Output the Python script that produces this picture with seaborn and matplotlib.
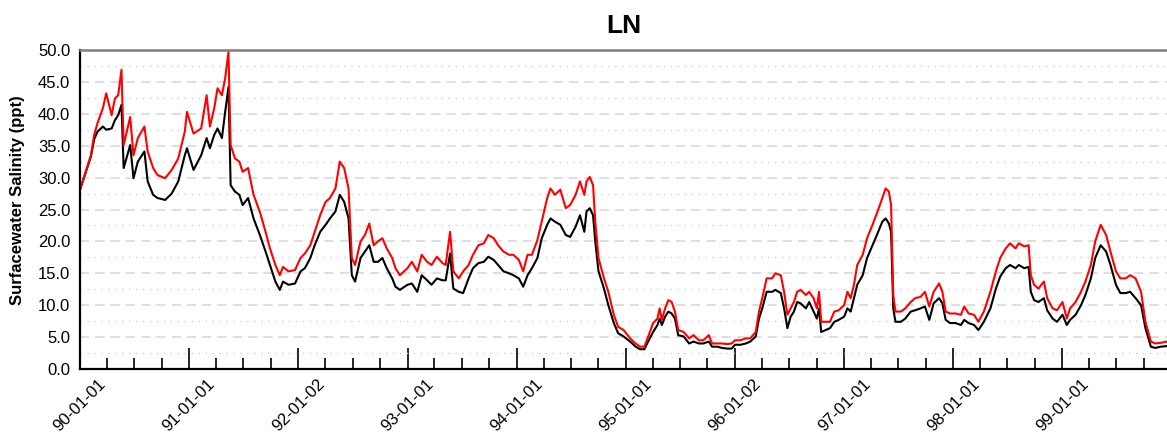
import matplotlib
matplotlib.use("Agg")
import matplotlib.pyplot as plt
import matplotlib.dates as mdates
import matplotlib.ticker as mticker
import seaborn as sns
import pandas as pd
import numpy as np

# ---------------- data ----------------
decimal_year = [
    1990.00, 1990.10, 1990.13, 1990.16, 1990.21, 1990.24, 1990.29, 1990.32, 1990.35, 1990.38,
    1990.40, 1990.46, 1990.49, 1990.53, 1990.59, 1990.62, 1990.67, 1990.71, 1990.78, 1990.84,
    1990.90, 1990.96, 1990.98, 1991.04, 1991.11, 1991.16, 1991.19, 1991.23, 1991.26, 1991.30,
    1991.33, 1991.36, 1991.38, 1991.42, 1991.46, 1991.49, 1991.54, 1991.59, 1991.65, 1991.70,
    1991.74, 1991.79, 1991.83, 1991.86, 1991.91, 1991.97, 1992.02, 1992.06, 1992.11, 1992.15,
    1992.20, 1992.25, 1992.29, 1992.34, 1992.38, 1992.42, 1992.46, 1992.49, 1992.52, 1992.57,
    1992.61, 1992.65, 1992.69, 1992.73, 1992.77, 1992.81, 1992.86, 1992.89, 1992.93, 1993.00,
    1993.04, 1993.09, 1993.13, 1993.18, 1993.22, 1993.27, 1993.32, 1993.35, 1993.39, 1993.42,
    1993.47, 1993.51, 1993.56, 1993.60, 1993.65, 1993.70, 1993.74, 1993.79, 1993.83, 1993.88,
    1993.93, 1993.97, 1994.02, 1994.06, 1994.10, 1994.14, 1994.19, 1994.23, 1994.28, 1994.31,
    1994.35, 1994.40, 1994.45, 1994.49, 1994.54, 1994.58, 1994.62, 1994.64, 1994.67, 1994.70,
    1994.72, 1994.75, 1994.80, 1994.84, 1994.89, 1994.93, 1994.98, 1995.04, 1995.09, 1995.13,
    1995.17, 1995.21, 1995.25, 1995.29, 1995.31, 1995.33, 1995.36, 1995.39, 1995.42, 1995.45,
    1995.48, 1995.53, 1995.58, 1995.62, 1995.67, 1995.71, 1995.76, 1995.79, 1995.84, 1995.88,
    1995.93, 1995.97, 1996.00, 1996.05, 1996.10, 1996.14, 1996.19, 1996.22, 1996.25, 1996.29,
    1996.34, 1996.37, 1996.42, 1996.45, 1996.48, 1996.51, 1996.54, 1996.57, 1996.60, 1996.65,
    1996.68, 1996.72, 1996.75, 1996.77, 1996.79, 1996.83, 1996.87, 1996.91, 1996.95, 1997.00,
    1997.03, 1997.06, 1997.09, 1997.12, 1997.17, 1997.21, 1997.26, 1997.30, 1997.35, 1997.38,
    1997.41, 1997.43, 1997.45, 1997.47, 1997.52, 1997.56, 1997.61, 1997.65, 1997.70, 1997.74,
    1997.78, 1997.82, 1997.87, 1997.90, 1997.93, 1997.97, 1998.02, 1998.07, 1998.10, 1998.14,
    1998.19, 1998.23, 1998.28, 1998.34, 1998.39, 1998.43, 1998.48, 1998.52, 1998.57, 1998.60,
    1998.65, 1998.69, 1998.71, 1998.74, 1998.78, 1998.83, 1998.86, 1998.91, 1998.95, 1999.00,
    1999.04, 1999.07, 1999.12, 1999.17, 1999.21, 1999.26, 1999.30, 1999.35, 1999.40, 1999.44,
    1999.49, 1999.53, 1999.58, 1999.62, 1999.67, 1999.72, 1999.76, 1999.81, 1999.85, 1999.90,
    1999.96,
]

red_salinity = [
    28.1, 33.5, 36.7, 38.5, 40.9, 43.2, 39.8, 42.4, 42.9, 46.9,
    35.1, 39.5, 33.5, 36.2, 38.0, 34.1, 31.5, 30.4, 29.9, 31.2,
    33.0, 37.2, 40.3, 36.9, 37.7, 42.9, 38.0, 40.9, 44.0, 42.9,
    45.6, 49.7, 35.1, 33.0, 32.5, 30.9, 31.5, 27.3, 24.5, 21.5,
    18.9, 16.3, 14.7, 16.0, 15.3, 15.5, 17.4, 18.1, 19.4, 21.5,
    24.1, 26.2, 26.8, 28.3, 32.5, 31.5, 28.3, 17.4, 16.3, 20.0,
    21.0, 22.8, 19.4, 20.0, 20.5, 18.9, 17.4, 15.8, 14.7, 15.8,
    16.8, 15.3, 17.9, 16.8, 16.3, 17.6, 16.6, 16.3, 21.5, 15.3,
    14.2, 15.3, 16.3, 17.9, 19.4, 19.7, 21.0, 20.5, 19.4, 18.4,
    17.9, 17.9, 17.1, 15.3, 17.9, 17.9, 20.2, 23.1, 26.8, 28.3,
    27.3, 28.1, 25.2, 25.7, 27.3, 29.4, 27.3, 29.4, 30.1, 28.8,
    23.1, 17.4, 14.2, 12.1, 8.5, 6.6, 6.1, 4.8, 4.0, 3.5,
    3.5, 5.3, 7.2, 7.9, 9.5, 7.7, 9.5, 10.8, 10.5, 9.0,
    6.1, 5.8, 4.8, 5.3, 4.5, 4.5, 5.3, 4.0, 4.0, 4.0,
    3.9, 4.0, 4.5, 4.5, 4.8, 4.8, 5.8, 9.0, 11.1, 14.2,
    14.2, 15.0, 14.7, 12.1, 8.5, 9.5, 10.5, 12.1, 12.4, 11.6,
    12.1, 11.1, 9.5, 12.1, 7.4, 7.4, 7.4, 9.0, 9.2, 10.0,
    12.1, 11.1, 13.2, 16.3, 17.9, 20.5, 22.6, 24.4, 26.8, 28.3,
    27.8, 25.7, 11.6, 9.0, 9.0, 9.5, 10.5, 11.1, 11.3, 12.1,
    9.8, 12.1, 13.4, 12.1, 9.0, 8.7, 8.7, 8.5, 9.8, 8.7,
    8.5, 7.4, 9.0, 12.1, 15.3, 17.4, 18.9, 19.7, 18.9, 19.7,
    19.2, 19.4, 14.7, 13.2, 12.6, 13.7, 11.1, 9.5, 9.2, 10.5,
    7.9, 9.5, 10.5, 12.1, 13.7, 16.3, 20.0, 22.6, 21.0, 18.4,
    15.3, 14.2, 14.2, 14.7, 14.2, 12.1, 7.4, 4.3, 4.0, 4.1,
    4.3,
]

black_salinity = [
    28.1, 33.3, 36.0, 37.2, 38.0, 37.5, 37.7, 39.0, 39.8, 41.4,
    31.5, 35.1, 29.9, 32.5, 34.1, 29.4, 27.3, 26.8, 26.5, 27.5,
    29.4, 33.5, 34.6, 31.2, 33.5, 36.2, 34.6, 36.7, 37.7, 36.2,
    40.3, 44.2, 28.8, 27.8, 27.3, 25.7, 26.8, 23.6, 20.9, 18.4,
    16.3, 13.7, 12.4, 13.7, 13.2, 13.4, 15.3, 15.8, 17.4, 19.4,
    21.5, 22.6, 23.6, 24.7, 27.3, 26.2, 23.6, 14.7, 13.7, 17.4,
    18.4, 19.4, 16.8, 16.8, 17.4, 15.8, 14.2, 12.9, 12.4, 13.2,
    13.4, 12.1, 14.7, 13.9, 13.2, 14.2, 13.9, 13.9, 18.1, 12.6,
    12.1, 11.9, 14.2, 15.8, 16.6, 16.8, 17.6, 17.1, 16.3, 15.3,
    15.0, 14.7, 14.2, 12.9, 14.7, 15.8, 17.4, 20.5, 22.6, 23.6,
    23.1, 22.6, 21.0, 20.7, 22.3, 24.1, 21.5, 24.7, 25.2, 24.1,
    20.0, 15.3, 12.6, 10.0, 7.2, 5.6, 5.1, 4.3, 3.5, 3.1,
    3.1, 4.5, 5.8, 6.9, 7.9, 6.9, 8.2, 9.0, 8.7, 7.9,
    5.3, 5.1, 4.0, 4.3, 4.0, 4.0, 4.3, 3.5, 3.5, 3.3,
    3.2, 3.2, 3.8, 3.8, 4.0, 4.3, 5.1, 7.9, 9.5, 12.1,
    12.1, 12.4, 11.9, 9.5, 6.4, 8.2, 9.0, 10.5, 10.3, 9.5,
    10.5, 9.0, 7.9, 9.5, 5.8, 6.1, 6.4, 7.4, 7.7, 8.2,
    9.5, 9.0, 11.1, 13.2, 14.7, 17.4, 19.4, 21.0, 23.1, 23.6,
    22.8, 21.5, 9.5, 7.4, 7.4, 7.9, 9.0, 9.2, 9.5, 9.8,
    7.7, 10.3, 11.1, 10.3, 7.7, 7.2, 7.2, 6.9, 7.7, 7.2,
    6.9, 6.1, 7.4, 9.5, 12.6, 14.5, 15.8, 16.3, 15.8, 16.3,
    15.8, 16.0, 12.1, 10.8, 10.5, 11.1, 9.2, 7.9, 7.4, 8.5,
    6.9, 7.7, 8.5, 10.0, 11.6, 14.2, 17.4, 19.4, 18.4, 16.3,
    13.2, 11.9, 11.9, 12.1, 11.1, 10.0, 6.4, 3.5, 3.3, 3.5,
    3.6,
]

x_tick_labels = ["90-01-01", "91-01-01", "92-01-02", "93-01-01", "94-01-01",
                 "95-01-01", "96-01-02", "97-01-01", "98-01-01", "99-01-01"]
y_tick_values = [0, 5, 10, 15, 20, 25, 30, 35, 40, 45, 50]

title_text = "LN"
y_label_text = "Surfacewater Salinity (ppt)"

# ---------------- build table ----------------
start = pd.Timestamp("1990-01-01")
dates = start + pd.to_timedelta((np.array(decimal_year) - 1990.0) * 365.25, unit="D")
long_df = pd.concat([
    pd.DataFrame({"date": dates, "salinity": black_salinity, "series": "black"}),
    pd.DataFrame({"date": dates, "salinity": red_salinity, "series": "red"}),
], ignore_index=True)

# ---------------- style ----------------
sns.set_style("white")
plt.rcParams["font.family"] = ["Liberation Sans", "DejaVu Sans"]
plt.rcParams["text.color"] = "black"
plt.rcParams["axes.labelcolor"] = "black"
plt.rcParams["xtick.color"] = "black"
plt.rcParams["ytick.color"] = "black"

W, H = 1167, 441
fig = plt.figure(figsize=(W / 100, H / 100), dpi=100)
ax = fig.add_axes([80 / W, 72 / H, 1087 / W, 319 / H])

sns.lineplot(data=long_df, x="date", y="salinity", hue="series",
             hue_order=["black", "red"],
             palette={"black": "#000000", "red": "#ff0000"},
             estimator=None, sort=False, legend=False, linewidth=1.5, ax=ax)

ax.set_xlim(start, pd.Timestamp("1999-12-17"))
ax.set_ylim(0, 50)

# grid
ax.yaxis.set_major_locator(mticker.FixedLocator(y_tick_values))
ax.yaxis.set_minor_locator(mticker.MultipleLocator(2.5))
ax.yaxis.set_major_formatter(mticker.FormatStrFormatter("%.1f"))
ax.grid(False)
ax.grid(which="major", axis="y", linestyle=(0, (6, 4)), color="#d6d6d6", linewidth=1.1)
ax.grid(which="minor", axis="y", linestyle=(0, (1, 4)), color="#cfcfcf", linewidth=1.0)
ax.set_axisbelow(True)

# x ticks
tick_dates = pd.to_datetime(x_tick_labels, format="%y-%m-%d")
ax.xaxis.set_major_locator(mticker.FixedLocator(mdates.date2num(tick_dates)))
ax.set_xticklabels(x_tick_labels, rotation=45, ha="center", fontsize=12, color="black")
ax.xaxis.set_minor_locator(mdates.MonthLocator(bymonth=[4, 7, 10]))
ax.tick_params(axis="x", which="both", bottom=True, top=False)
ax.tick_params(axis="x", which="major", direction="in", length=15, width=1.2,
               color="black", pad=5)
ax.tick_params(axis="x", which="minor", direction="in", length=8, width=1.2,
               color="black")
ax.tick_params(axis="y", which="both", left=False, length=0, pad=7,
               labelsize=12, labelcolor="black")

# spines
for s in ["left", "bottom"]:
    ax.spines[s].set_color("black")
    ax.spines[s].set_linewidth(1.6)
ax.spines["top"].set_color("#808080")
ax.spines["top"].set_linewidth(1.8)
ax.spines["right"].set_visible(False)

ax.set_title(title_text, fontsize=19, fontweight="bold", pad=12, color="black")
ax.set_xlabel("")
ax.set_ylabel(y_label_text, fontsize=12, fontweight="bold", color="black")
ax.yaxis.set_label_coords(-0.051, 0.53)

fig.savefig("out.png", dpi=100)
